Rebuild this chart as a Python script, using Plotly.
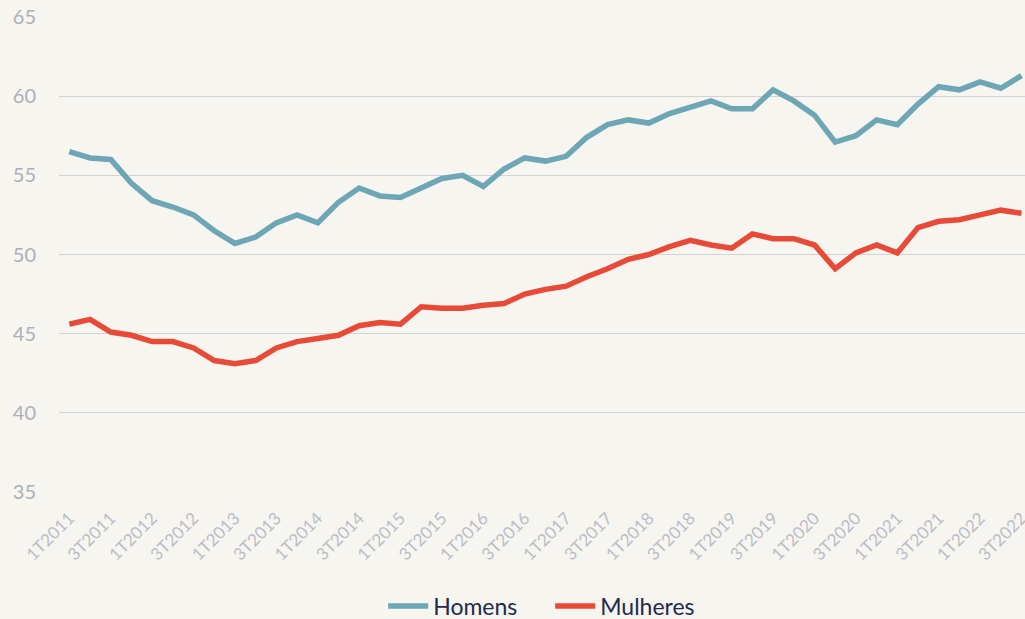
import plotly.graph_objects as go

quarters = []
for yr in range(2011, 2023):
    for q in range(1, 5):
        if yr == 2022 and q == 4:
            break
        quarters.append(f"{q}T{yr}")

homens = [56.5, 56.1, 56.0, 54.5, 53.4, 53.0, 52.5, 51.5, 50.7, 51.1,
          52.0, 52.5, 52.0, 53.3, 54.2, 53.7, 53.6, 54.2, 54.8, 55.0,
          54.3, 55.4, 56.1, 55.9, 56.2, 57.4, 58.2, 58.5, 58.3, 58.9,
          59.3, 59.7, 59.2, 59.2, 60.4, 59.7, 58.8, 57.1, 57.5, 58.5,
          58.2, 59.5, 60.6, 60.4, 60.9, 60.5, 61.3]
mulheres = [45.6, 45.9, 45.1, 44.9, 44.5, 44.5, 44.1, 43.3, 43.1, 43.3,
            44.1, 44.5, 44.7, 44.9, 45.5, 45.7, 45.6, 46.7, 46.6, 46.6,
            46.8, 46.9, 47.5, 47.8, 48.0, 48.6, 49.1, 49.7, 50.0, 50.5,
            50.9, 50.6, 50.4, 51.3, 51.0, 51.0, 50.6, 49.1, 50.1, 50.6,
            50.1, 51.7, 52.1, 52.2, 52.5, 52.8, 52.6]

y_ticks = [35, 40, 45, 50, 55, 60, 65]
x_tick_idx = list(range(0, len(quarters), 2))
x_tick_text = [quarters[i] for i in x_tick_idx]

xpos = list(range(len(quarters)))

fig = go.Figure()
fig.add_trace(go.Scatter(x=xpos, y=homens, mode="lines", name="Homens",
                         line=dict(color="#6DA6B5", width=5.5)))
fig.add_trace(go.Scatter(x=xpos, y=mulheres, mode="lines", name="Mulheres",
                         line=dict(color="#E84A38", width=5.5)))

font_family = "Lato, 'Open Sans', sans-serif"
fig.update_layout(
    width=1025, height=619,
    paper_bgcolor="#F6F5F0", plot_bgcolor="#F6F5F0",
    margin=dict(l=59, r=0, t=17, b=127, autoexpand=False),
    font=dict(family=font_family),
    showlegend=True,
    legend=dict(orientation="h", x=0.3356, xanchor="left", y=-0.24, yanchor="middle",
                font=dict(size=23, color="#1F2A4E"), itemwidth=40,
                entrywidth=112, entrywidthmode="pixels", tracegroupgap=0),
    xaxis=dict(range=[-0.5, 46.17], tickmode="array", tickvals=x_tick_idx,
               ticktext=x_tick_text, tickangle=-45, showgrid=False, zeroline=False,
               showline=False, ticks="", ticklabelstandoff=12,
               ticklabeloverflow="allow",
               tickfont=dict(size=17, color="#BBBDC8")),
    yaxis=dict(range=[35, 65], tickmode="array", tickvals=y_ticks, showgrid=True,
               gridcolor="#D3D3D3", gridwidth=1, zeroline=False, showline=False,
               ticks="", ticklabelstandoff=22,
               tickfont=dict(size=20, color="#AEAFB8")),
)
fig.write_html("out.html", config={"displayModeBar": False},
               post_script="document.body.style.margin='0';document.body.style.overflow='hidden';")
